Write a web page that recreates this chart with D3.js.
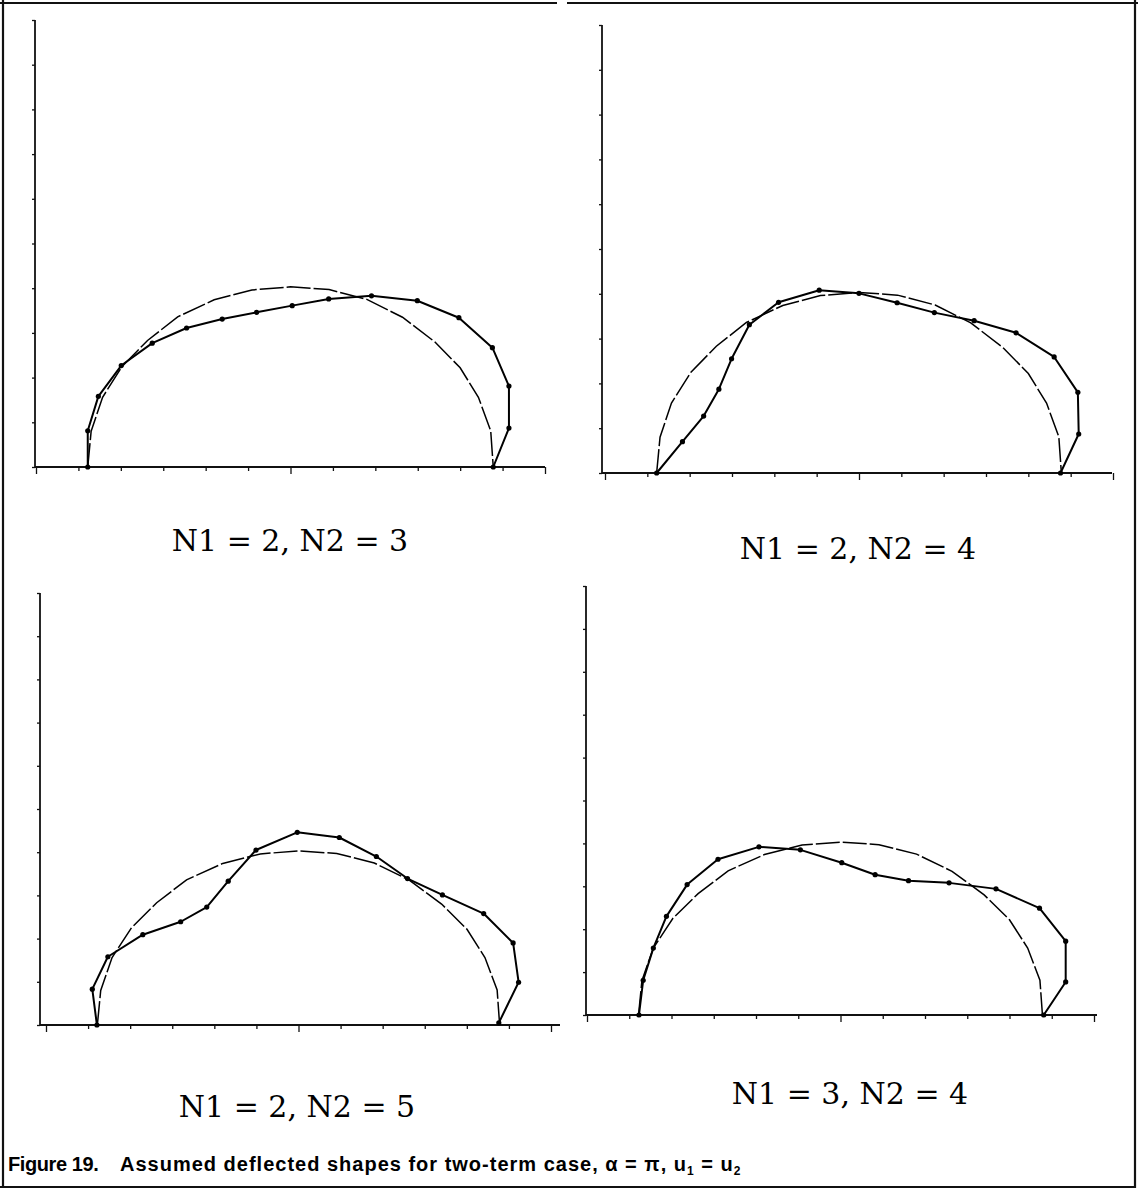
<!DOCTYPE html>
<html>
<head>
<meta charset="utf-8">
<script src="https://cdn.jsdelivr.net/npm/d3@7"></script>
<style>
  body { margin: 0; background: #fff; }
  svg { display: block; }
</style>
</head>
<body>
<svg id="fig" width="1138" height="1195"></svg>
<script>
// ---- data (plot units: x from -6 to 6, y from 0 to 10) ----
const xTicks = [-6, -5, -4, -3, -2, -1, 0, 1, 2, 3, 4, 5, 6];
const yTicks = [0, 1, 2, 3, 4, 5, 6, 7, 8, 9, 10];

// undeflected reference arc, drawn thin and broken in every panel
const arcX = [-4.78, -4.70, -4.43, -3.97, -3.37, -2.66, -1.80, -0.91, 0.00, 0.91, 1.80, 2.64, 3.40, 4.00, 4.43, 4.72, 4.78];
const arcY = [0.00, 0.80, 1.56, 2.25, 2.83, 3.36, 3.74, 3.96, 4.03, 3.97, 3.75, 3.35, 2.80, 2.22, 1.56, 0.81, 0.00];

// assumed deflected shapes
const shapeN2N3X = [-4.78, -4.78, -4.53, -3.99, -3.26, -2.45, -1.61, -0.80, 0.04, 0.90, 1.91, 2.99, 3.97, 4.76, 5.15, 5.15, 4.78];
const shapeN2N3Y = [0.00, 0.81, 1.58, 2.27, 2.77, 3.11, 3.31, 3.46, 3.61, 3.76, 3.83, 3.72, 3.34, 2.67, 1.81, 0.87, 0.00];

const shapeN2N4X = [-4.78, -4.17, -3.67, -3.31, -3.01, -2.59, -1.90, -0.94, 0.00, 0.90, 1.78, 2.72, 3.71, 4.61, 5.17, 5.19, 4.76];
const shapeN2N4Y = [0.00, 0.70, 1.27, 1.87, 2.55, 3.31, 3.81, 4.08, 4.01, 3.80, 3.58, 3.40, 3.13, 2.59, 1.80, 0.87, 0.00];

const shapeN2N5X = [-4.79, -4.90, -4.53, -3.70, -2.80, -2.18, -1.67, -1.01, -0.03, 0.97, 1.85, 2.59, 3.42, 4.40, 5.10, 5.23, 4.76];
const shapeN2N5Y = [0.00, 0.83, 1.58, 2.09, 2.39, 2.73, 3.33, 4.05, 4.46, 4.34, 3.90, 3.39, 3.01, 2.58, 1.90, 0.99, 0.05];

const shapeN3N4X = [-4.77, -4.67, -4.43, -4.12, -3.63, -2.90, -1.93, -0.95, 0.03, 0.82, 1.61, 2.57, 3.68, 4.71, 5.33, 5.33, 4.81];
const shapeN3N4Y = [0.00, 0.81, 1.56, 2.30, 3.04, 3.63, 3.92, 3.85, 3.55, 3.27, 3.13, 3.08, 2.94, 2.49, 1.72, 0.77, 0.00];

const panelLabels = ["N1 = 2, N2 = 3", "N1 = 2, N2 = 4", "N1 = 2, N2 = 5", "N1 = 3, N2 = 4"];

// ---- layout of the four panels ----
const panels = [
  { xs: shapeN2N3X, ys: shapeN2N3Y, label: panelLabels[0], axisX: 35,  xRange: [36, 545],   top: 20,  base: 467,  axisEnd: 545,  lx: 290, ly: 540 },
  { xs: shapeN2N4X, ys: shapeN2N4Y, label: panelLabels[1], axisX: 602, xRange: [605, 1113], top: 25,  base: 473,  axisEnd: 1112, lx: 858, ly: 548 },
  { xs: shapeN2N5X, ys: shapeN2N5Y, label: panelLabels[2], axisX: 40,  xRange: [46, 551],   top: 593, base: 1025, axisEnd: 560,  lx: 297, ly: 1106 },
  { xs: shapeN3N4X, ys: shapeN3N4Y, label: panelLabels[3], axisX: 586, xRange: [587, 1094], top: 586, base: 1015, axisEnd: 1097, lx: 850, ly: 1093 }
];

const svg = d3.select("#fig");

// outer frame
const frame = svg.append("g").attr("stroke", "#111").attr("stroke-width", 2.2).attr("fill", "none");
frame.append("line").attr("x1", 3).attr("y1", 0).attr("x2", 3).attr("y2", 1188);
frame.append("line").attr("x1", 1135).attr("y1", 0).attr("x2", 1135).attr("y2", 1188);
frame.append("line").attr("x1", 0).attr("y1", 1187).attr("x2", 1136).attr("y2", 1187);
frame.append("line").attr("x1", 0).attr("y1", 3).attr("x2", 557).attr("y2", 3);
frame.append("line").attr("x1", 567).attr("y1", 3).attr("x2", 1138).attr("y2", 3);

panels.forEach(p => {
  const x = d3.scaleLinear().domain([-6, 6]).range(p.xRange);
  const y = d3.scaleLinear().domain([0, 10]).range([p.base, p.top]);
  const g = svg.append("g");

  // y axis with short ticks on its left side
  const ya = g.append("g")
    .attr("transform", `translate(${p.axisX},0)`)
    .call(d3.axisLeft(y).tickValues(yTicks).tickSize(3).tickFormat(""));
  ya.select(".domain").attr("d", `M0,${p.top}V${p.base}`).attr("stroke", "#111").attr("stroke-width", 1.8);
  ya.selectAll(".tick line").attr("stroke", "#111").attr("stroke-width", 1.3);

  // x axis with downward ticks, longer at the centre and the ends
  const xa = g.append("g")
    .attr("transform", `translate(0,${p.base})`)
    .call(d3.axisBottom(x).tickValues(xTicks).tickSize(4).tickFormat(""));
  xa.select(".domain").attr("d", `M${p.axisX},0H${p.axisEnd}`).attr("stroke", "#111").attr("stroke-width", 1.8);
  xa.selectAll(".tick line")
    .attr("stroke", "#111").attr("stroke-width", 1.3)
    .attr("y2", d => (d === 0 || d === 6 || d === -6) ? 7 : 4);

  const line = d3.line().x(d => x(d[0])).y(d => y(d[1]));

  // reference arc
  const arcPts = arcX.map((v, i) => [v, arcY[i]]);
  g.append("path")
    .attr("d", line(arcPts))
    .attr("fill", "none").attr("stroke", "#000")
    .attr("stroke-width", 1.5)
    .attr("stroke-dasharray", "24 3");

  // deflected shape with point markers
  const pts = p.xs.map((v, i) => [v, p.ys[i]]);
  g.append("path")
    .attr("d", line(pts))
    .attr("fill", "none").attr("stroke", "#000")
    .attr("stroke-width", 2)
    .attr("stroke-linejoin", "round");
  g.selectAll("circle.pt").data(pts).join("circle")
    .attr("class", "pt")
    .attr("cx", d => x(d[0])).attr("cy", d => y(d[1]))
    .attr("r", 2.6).attr("fill", "#000");

  // panel label
  svg.append("text")
    .attr("x", p.lx).attr("y", p.ly)
    .attr("text-anchor", "middle").attr("dominant-baseline", "central")
    .attr("font-family", "'DejaVu Serif', serif")
    .attr("font-size", 30)
    .attr("fill", "#000")
    .text(p.label);
});

// figure caption
const capFont = "'Liberation Sans', Arial, sans-serif";
svg.append("text")
  .attr("x", 8).attr("y", 1171)
  .attr("font-family", capFont).attr("font-weight", "bold").attr("font-size", 20)
  .attr("letter-spacing", -0.4)
  .text("Figure 19.");
const cap = svg.append("text")
  .attr("x", 120).attr("y", 1171)
  .attr("font-family", capFont).attr("font-weight", "bold").attr("font-size", 20)
  .attr("letter-spacing", 1.0)
  .attr("fill", "#000");
cap.append("tspan").text("Assumed deflected shapes for two-term case, α = π, u");
cap.append("tspan").attr("dy", 4).attr("font-size", 12).text("1");
cap.append("tspan").attr("dy", -4).text(" = u");
cap.append("tspan").attr("dy", 4).attr("font-size", 12).text("2");
</script>
</body>
</html>
